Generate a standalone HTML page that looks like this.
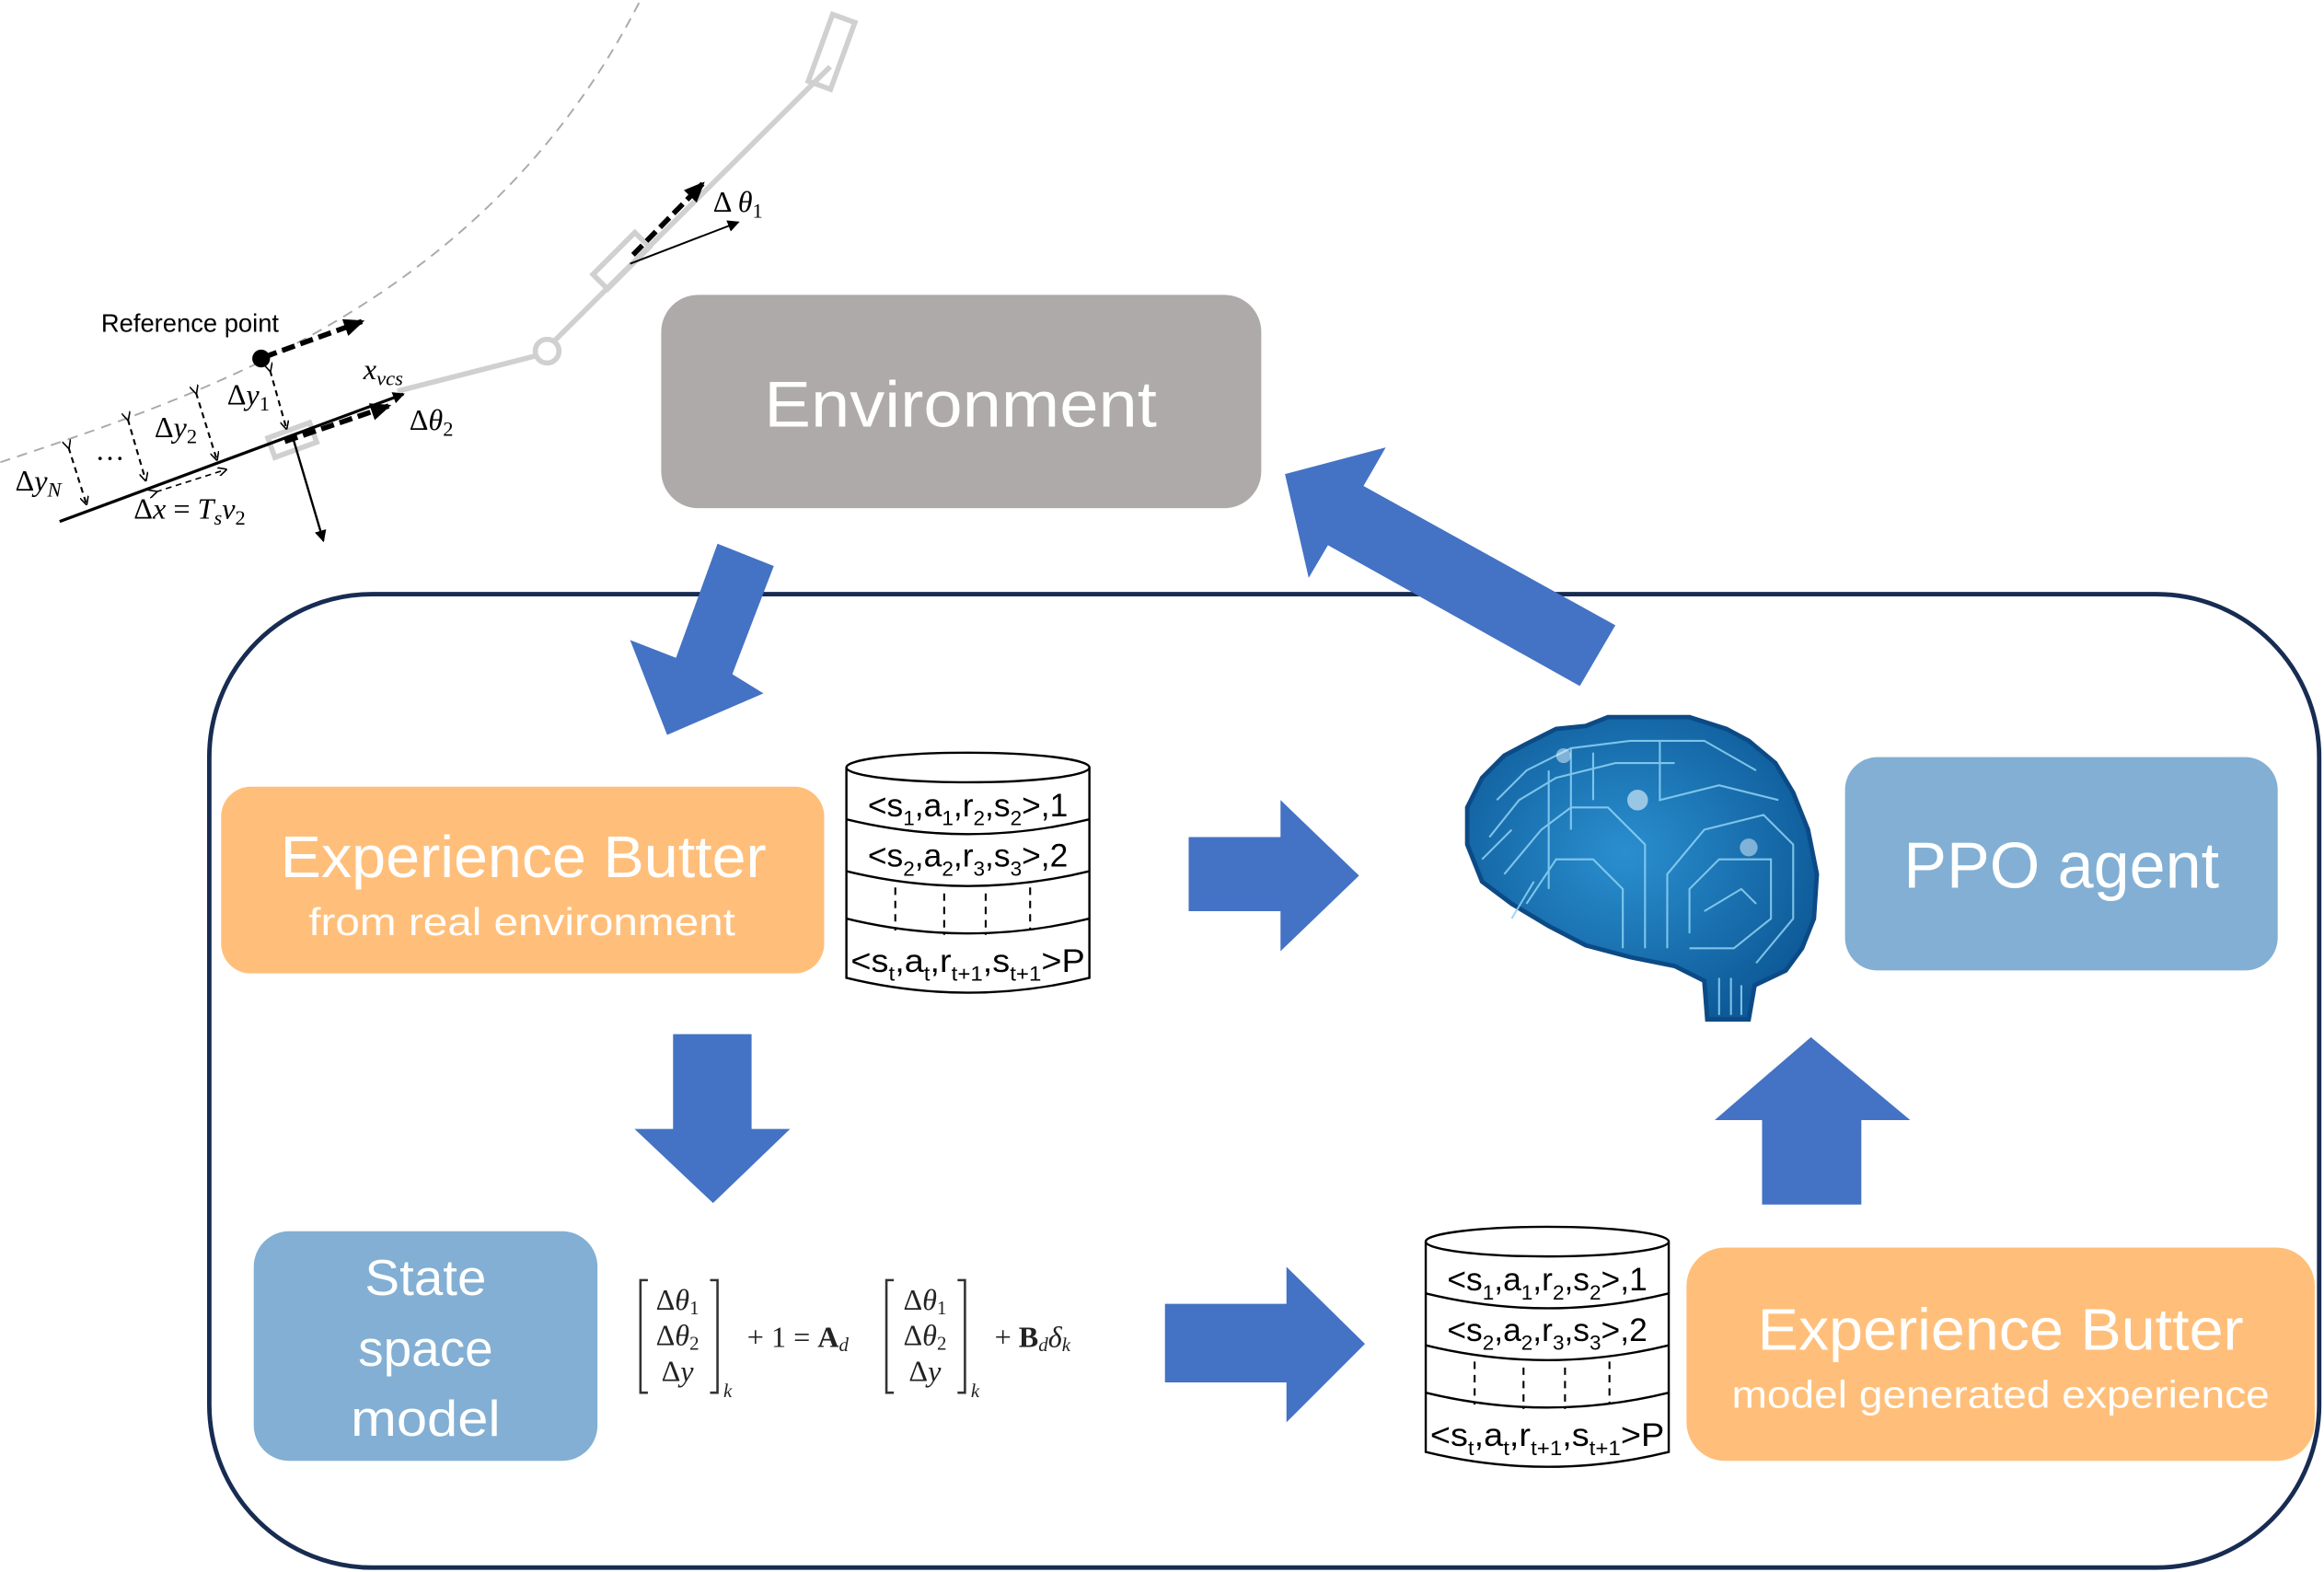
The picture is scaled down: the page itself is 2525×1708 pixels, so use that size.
<!DOCTYPE html>
<html><head><meta charset="utf-8"><style>html,body{margin:0;padding:0;background:#fff}svg{display:block}</style></head>
<body>
<svg width="2525" height="1708" viewBox="0 0 1568 1061" xmlns="http://www.w3.org/2000/svg">
<defs>
<radialGradient id="bg" cx="0.45" cy="0.45" r="0.6"><stop offset="0" stop-color="#2a8fcf"/><stop offset="1" stop-color="#0e5a98"/></radialGradient>
<marker id="ah" markerWidth="8" markerHeight="8" refX="7" refY="4" orient="auto" markerUnits="userSpaceOnUse"><path d="M0,0 L8,4 L0,8 z" fill="#000"/></marker>
<marker id="ahs" markerWidth="6" markerHeight="6" refX="5" refY="3" orient="auto" markerUnits="userSpaceOnUse"><path d="M0,0 L6,3 L0,6" fill="none" stroke="#000" stroke-width="1"/></marker>
<marker id="ahb" markerWidth="14" markerHeight="12" refX="12" refY="6" orient="auto" markerUnits="userSpaceOnUse"><path d="M0,0 L14,6 L0,12 z" fill="#000"/></marker>
<g id="cyl">
<path d="M571,518 L571,660 Q653,680 735,660 L735,518" fill="#fff" stroke="#000" stroke-width="1.5"/>
<ellipse cx="653" cy="518" rx="82" ry="10" fill="#fff" stroke="#000" stroke-width="1.5"/>
<path d="M571,553 Q653,573 735,553 M571,588 Q653,608 735,588 M571,620 Q653,640 735,620" fill="none" stroke="#000" stroke-width="1.5"/>
<path d="M604,599 V628 M637,603 V631 M665,603 V631 M695,599 V628" stroke="#000" stroke-width="1.3" stroke-dasharray="5,4"/>
<g font-family="Liberation Sans, sans-serif" font-size="22" text-anchor="middle" fill="#000">
<text x="653" y="551">&lt;s<tspan font-size="14" dy="6">1</tspan><tspan dy="-6">,a</tspan><tspan font-size="14" dy="6">1</tspan><tspan dy="-6">,r</tspan><tspan font-size="14" dy="6">2</tspan><tspan dy="-6">,s</tspan><tspan font-size="14" dy="6">2</tspan><tspan dy="-6">&gt;,1</tspan></text>
<text x="653" y="585">&lt;s<tspan font-size="14" dy="6">2</tspan><tspan dy="-6">,a</tspan><tspan font-size="14" dy="6">2</tspan><tspan dy="-6">,r</tspan><tspan font-size="14" dy="6">3</tspan><tspan dy="-6">,s</tspan><tspan font-size="14" dy="6">3</tspan><tspan dy="-6">&gt;,2</tspan></text>
<text x="653" y="656" textLength="158" lengthAdjust="spacingAndGlyphs">&lt;s<tspan font-size="14" dy="6">t</tspan><tspan dy="-6">,a</tspan><tspan font-size="14" dy="6">t</tspan><tspan dy="-6">,r</tspan><tspan font-size="14" dy="6">t+1</tspan><tspan dy="-6">,s</tspan><tspan font-size="14" dy="6">t+1</tspan><tspan dy="-6">&gt;P</tspan></text>
</g>
</g>
</defs>

<!-- top-left vehicle diagram -->
<path d="M0,312 C150,262 330,200 432,0" fill="none" stroke="#aaa" stroke-width="1.2" stroke-dasharray="7,5"/>
<g stroke="#d0d0d0" stroke-width="3.5" fill="none">
<line x1="268" y1="264" x2="362" y2="240"/>
<line x1="374" y1="230" x2="560" y2="45"/>
<circle cx="369" cy="237" r="8" fill="#fff"/>
<rect x="-15" y="-7" width="30" height="14" transform="translate(197,297) rotate(-20)"/>
<rect x="-20" y="-7" width="40" height="14" transform="translate(419,176) rotate(-45)"/>
<rect x="-24" y="-8" width="48" height="16" transform="translate(561,35) rotate(-70)"/>
</g>
<line x1="40" y1="352" x2="272" y2="266" stroke="#000" stroke-width="2" marker-end="url(#ah)"/>
<line x1="197" y1="294" x2="218" y2="365" stroke="#000" stroke-width="1.5" marker-end="url(#ah)"/>
<line x1="425" y1="178" x2="498" y2="150" stroke="#000" stroke-width="1.2" marker-end="url(#ah)"/>
<g stroke="#000" stroke-width="3.5" stroke-dasharray="9,4" fill="none">
<line x1="178" y1="241" x2="244" y2="217" marker-end="url(#ahb)"/>
<line x1="192" y1="298" x2="262" y2="274" marker-end="url(#ahb)"/>
<line x1="427" y1="172" x2="474" y2="124" marker-end="url(#ahb)"/>
</g>
<circle cx="176" cy="242" r="6" fill="#000"/>
<g stroke="#000" stroke-width="1.3" stroke-dasharray="4,3" fill="none" marker-start="url(#ahs)" marker-end="url(#ahs)">
<line x1="182" y1="250" x2="193" y2="289"/>
<line x1="132" y1="265" x2="146" y2="310"/>
<line x1="86" y1="283" x2="98" y2="324"/>
<line x1="46" y1="302" x2="58" y2="340"/>
<line x1="105" y1="332" x2="152" y2="317" stroke-width="1"/>
</g>
<g font-family="Liberation Serif, serif" font-size="20" fill="#000">
<text x="68" y="224" font-family="Liberation Sans, sans-serif" font-size="17">Reference point</text>
<text x="153" y="273">Δ<tspan font-style="italic">y</tspan><tspan font-size="14" dy="4">1</tspan></text>
<text x="104" y="295">Δ<tspan font-style="italic">y</tspan><tspan font-size="14" dy="4">2</tspan></text>
<text x="10" y="331">Δ<tspan font-style="italic">y</tspan><tspan font-size="14" dy="4" font-style="italic">N</tspan></text>
<text x="64" y="316">···</text>
<text x="245" y="256" font-style="italic">x<tspan font-size="14" dy="4">vcs</tspan></text>
<text x="276" y="290">Δ<tspan font-style="italic">θ</tspan><tspan font-size="14" dy="4">2</tspan></text>
<text x="481" y="143">Δ <tspan font-style="italic">θ</tspan><tspan font-size="14" dy="4">1</tspan></text>
<text x="90" y="350">Δ<tspan font-style="italic">x</tspan> = <tspan font-style="italic">T</tspan><tspan font-size="14" dy="4" font-style="italic">s</tspan><tspan dy="-4" font-style="italic">v</tspan><tspan font-size="14" dy="4">2</tspan></text>
</g>

<!-- main container -->
<rect x="141" y="401" width="1424" height="657" rx="110" fill="none" stroke="#172c52" stroke-width="3"/>

<!-- Environment -->
<rect x="446" y="199" width="405" height="144" rx="25" fill="#aeaaaa"/>
<text x="648" y="288" font-family="Liberation Sans, sans-serif" font-size="44" fill="#fff" text-anchor="middle" textLength="265" lengthAdjust="spacingAndGlyphs">Environment</text>

<!-- blue arrows -->
<g fill="#4472c4">
<polygon points="484,367 522,382 494,455 515,468 450,496 425,432 456,444"/>
<polygon points="867,320 935,302 920,328 1090,422 1066,463 896,368 883,390"/>
<polygon points="802,565 864,565 864,540 917,591 864,642 864,615 802,615"/>
<polygon points="454,698 507,698 507,762 533,762 481,812 428,762 454,762"/>
<polygon points="786,880 868,880 868,855 921,907 868,960 868,933 786,933"/>
<polygon points="1222,700 1289,756 1256,756 1256,813 1189,813 1189,756 1157,756"/>
</g>

<!-- Experience buffer real -->
<rect x="149" y="531" width="407" height="126" rx="20" fill="#ffbf7a"/>
<g font-family="Liberation Sans, sans-serif" fill="#fff" text-anchor="middle">
<text x="353" y="592" font-size="40" textLength="328" lengthAdjust="spacingAndGlyphs">Experience Butter</text>
<text x="352" y="631" font-size="26" textLength="288" lengthAdjust="spacingAndGlyphs">from real environment</text>
</g>
<use href="#cyl"/>

<!-- brain -->
<path d="M1030,502 L1050,492 L1070,490 L1085,484 L1140,484 L1165,492 L1180,500 L1198,515 L1210,535 L1220,560 L1226,590 L1224,620 L1216,640 L1205,655 L1184,665 L1180,688 L1152,688 L1150,662 L1130,652 L1100,646 L1070,638 L1045,625 L1020,610 L1000,595 L990,570 L990,545 L1000,525 L1015,510 Z" fill="url(#bg)" stroke="#0c4a86" stroke-width="3"/>
<g stroke="#8fd3f5" stroke-width="1.3" fill="none" opacity="0.85">
<path d="M1010,540 L1030,520 L1060,505 L1100,500 L1150,500 L1185,520"/>
<path d="M1005,565 L1025,540 L1050,525 L1090,515 L1130,515"/>
<path d="M1015,590 L1040,560 L1060,545 L1085,545 L1110,570 L1110,640"/>
<path d="M1030,610 L1050,580 L1075,580 L1095,600 L1095,640"/>
<path d="M1125,640 L1125,590 L1150,560 L1190,550 L1210,570 L1210,620 L1185,650"/>
<path d="M1140,630 L1140,600 L1160,580 L1195,580 L1195,620 L1170,640 L1140,640"/>
<path d="M1160,660 L1160,685 M1168,660 L1168,685 M1175,665 L1175,685"/>
<path d="M1120,500 L1120,540 L1160,530 L1200,540"/>
<path d="M1060,505 L1060,560 M1075,508 L1075,540 M1045,520 L1045,600"/>
<path d="M1000,580 L1020,560 M1020,620 L1035,595 M1150,615 L1175,600 L1185,610"/>
</g>
<circle cx="1105" cy="540" r="7" fill="#e8f6ff" opacity="0.6"/>
<circle cx="1180" cy="572" r="6" fill="#e8f6ff" opacity="0.5"/>
<circle cx="1055" cy="510" r="5" fill="#e8f6ff" opacity="0.5"/>

<!-- PPO agent -->
<rect x="1245" y="511" width="292" height="144" rx="22" fill="#82afd3"/>
<text x="1391" y="599" font-family="Liberation Sans, sans-serif" font-size="44" fill="#fff" text-anchor="middle" textLength="213" lengthAdjust="spacingAndGlyphs">PPO agent</text>

<!-- State space model -->
<rect x="171" y="831" width="232" height="155" rx="24" fill="#82afd3"/>
<g font-family="Liberation Sans, sans-serif" font-size="34" fill="#fff" text-anchor="middle">
<text x="287" y="874" textLength="82" lengthAdjust="spacingAndGlyphs">State</text>
<text x="287" y="922" textLength="91" lengthAdjust="spacingAndGlyphs">space</text>
<text x="287" y="969" textLength="101" lengthAdjust="spacingAndGlyphs">model</text>
</g>

<!-- equation -->
<g font-family="Liberation Serif, serif" font-size="20" fill="#222">
<path d="M437,864 H432 V940 H437 M479,864 H484 V940 H479" fill="none" stroke="#333" stroke-width="1.6"/>
<text x="457" y="884" text-anchor="middle">Δ<tspan font-style="italic">θ</tspan><tspan font-size="13" dy="3">1</tspan></text>
<text x="457" y="908" text-anchor="middle">Δ<tspan font-style="italic">θ</tspan><tspan font-size="13" dy="3">2</tspan></text>
<text x="457" y="932" text-anchor="middle">Δ<tspan font-style="italic">y</tspan></text>
<text x="488" y="943" font-size="13" font-style="italic">k</text>
<text x="504" y="909">+ 1 = <tspan font-weight="bold">A</tspan><tspan font-size="13" font-style="italic" dy="3">d</tspan></text>
<path d="M603,864 H598 V940 H603 M646,864 H651 V940 H646" fill="none" stroke="#333" stroke-width="1.6"/>
<text x="624" y="884" text-anchor="middle">Δ<tspan font-style="italic">θ</tspan><tspan font-size="13" dy="3">1</tspan></text>
<text x="624" y="908" text-anchor="middle">Δ<tspan font-style="italic">θ</tspan><tspan font-size="13" dy="3">2</tspan></text>
<text x="624" y="932" text-anchor="middle">Δ<tspan font-style="italic">y</tspan></text>
<text x="655" y="943" font-size="13" font-style="italic">k</text>
<text x="671" y="909">+ <tspan font-weight="bold">B</tspan><tspan font-size="13" font-style="italic" dy="3">d</tspan><tspan dy="-3" font-style="italic">δ</tspan><tspan font-size="13" font-style="italic" dy="3">k</tspan></text>
</g>

<!-- second cylinder -->
<use href="#cyl" transform="translate(391,320)"/>

<!-- Experience buffer model -->
<rect x="1138" y="842" width="424" height="144" rx="26" fill="#ffbf7a"/>
<g font-family="Liberation Sans, sans-serif" fill="#fff" text-anchor="middle">
<text x="1350" y="911" font-size="40" textLength="328" lengthAdjust="spacingAndGlyphs">Experience Butter</text>
<text x="1350" y="950" font-size="26" textLength="363" lengthAdjust="spacingAndGlyphs">model generated experience</text>
</g>
</svg>
</body></html>
